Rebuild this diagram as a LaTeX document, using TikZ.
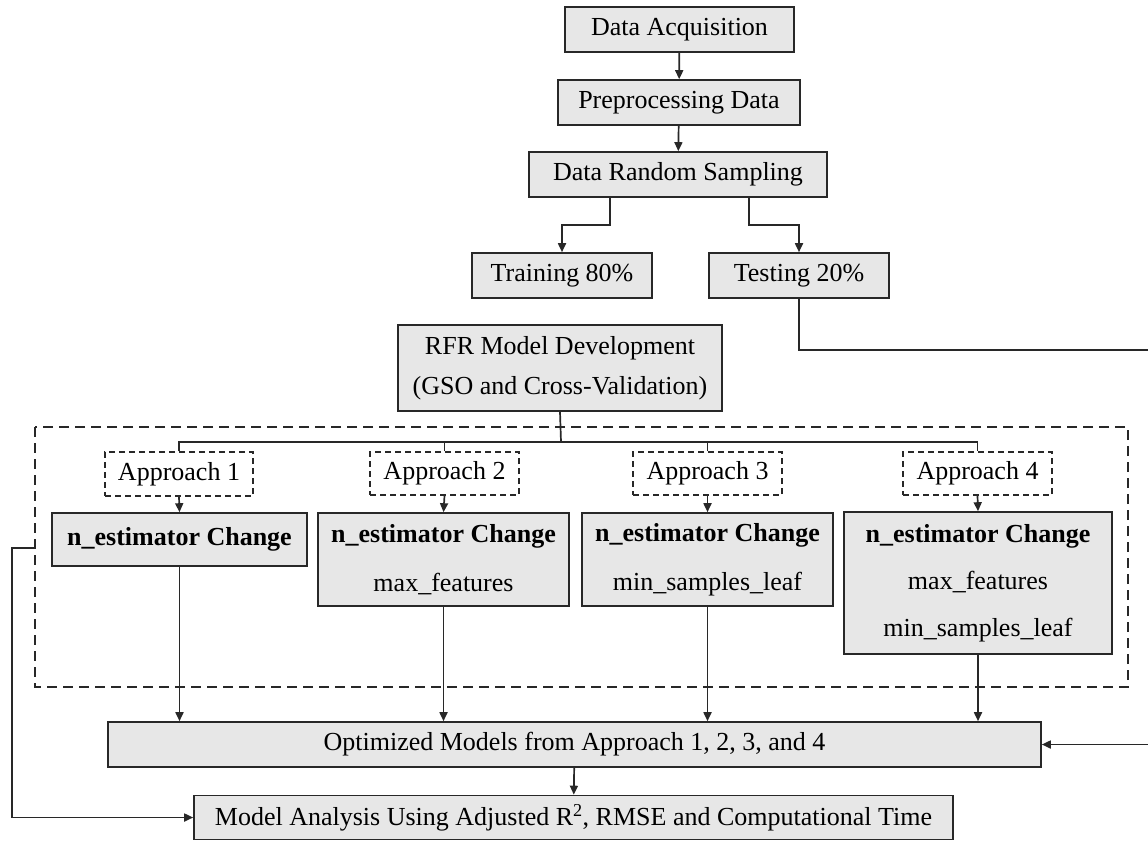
\documentclass[tikz,border=0pt]{standalone}
\usepackage{fontspec}
\setmainfont{Liberation Serif}
\usetikzlibrary{arrows.meta,calc}
\definecolor{boxgray}{RGB}{231,231,231}
\definecolor{edge}{RGB}{40,40,40}
\begin{document}
\begin{tikzpicture}[x=1pt,y=-1pt,
  box/.style={draw=edge, fill=boxgray, line width=1.6pt, inner sep=0pt, align=center,
    font=\fontsize{26}{47}\selectfont},
  appr/.style={draw=edge, line width=1.4pt, dash pattern=on 6pt off 4pt, inner sep=0pt,
    align=center, font=\fontsize{26}{30}\selectfont},
  conn/.style={draw=edge, line width=1.7pt},
  arr/.style={conn, -{Triangle[length=9pt,width=8pt]}},
  frame/.style={draw=edge, line width=1.6pt, dash pattern=on 10pt off 6pt}
]
\useasboundingbox (0,0) rectangle (1148,841);

% top chain
\node[box, minimum width=229, minimum height=45] (da) at (679.5,29.5) {Data Acquisition};
\node[box, minimum width=242, minimum height=45] (pp) at (679,102.5) {Preprocessing Data};
\node[box, minimum width=298, minimum height=45] (drs) at (678,174.5) {Data Random Sampling};
\node[box, minimum width=180, minimum height=45] (train) at (562,275.5) {Training 80\%};
\node[box, minimum width=180, minimum height=45] (test) at (799,275.5) {Testing 20\%};
\node[box, minimum width=324, minimum height=86, font=\fontsize{26}{40}\selectfont] (rfr) at (560,368)
  {RFR Model Development\\(GSO and Cross-Validation)};

% outer dashed frame
\draw[frame] (35,427) rectangle (1128,687);
\coordinate (fl) at (35,548);

% approaches
\node[appr, minimum width=148, minimum height=44] (a1) at (179,474) {Approach 1};
\node[appr, minimum width=149, minimum height=43] (a2) at (444.5,473.5) {Approach 2};
\node[appr, minimum width=149, minimum height=43] (a3) at (707.5,473.5) {Approach 3};
\node[appr, minimum width=149, minimum height=43] (a4) at (977.5,473.5) {Approach 4};

\node[box, minimum width=255, minimum height=53] (b1) at (179.5,539.5) {\textbf{n\_estimator Change}};
\node[box, minimum width=251, minimum height=93, font=\fontsize{26}{49}\selectfont] (b2) at (443.5,559.5)
  {\textbf{n\_estimator Change}\\max\_features};
\node[box, minimum width=251, minimum height=93, font=\fontsize{26}{49}\selectfont] (b3) at (707.5,559.5)
  {\textbf{n\_estimator Change}\\min\_samples\_leaf};
\node[box, minimum width=268, minimum height=142] (b4) at (978,583)
  {\textbf{n\_estimator Change}\\max\_features\\min\_samples\_leaf};

% bottom
\node[box, minimum width=933, minimum height=45] (opt) at (574.5,744.5) {Optimized Models from Approach 1, 2, 3, and 4};
\node[box, minimum width=759, minimum height=44] (ma) at (573.5,817.5)
  {Model Analysis Using Adjusted R\textsuperscript{2}, RMSE and Computational Time};

% connectors top
\draw[arr] (da) -- (pp);
\draw[arr] (pp) -- (drs);
\draw[arr] ($(drs.south)+(-68,0)$) -- ++(0,27) -| (train.north);
\draw[arr] ($(drs.south)+(71,0)$) -- ++(0,27) -| (test.north);
\coordinate (far) at (1165,350);
\draw[arr] (test.south) |- (far) |- (opt.east);

% tree
\coordinate (bus) at (561,442);
\draw[conn] (rfr.south) -- (bus);
\draw[conn] (a1.north) |- (bus) -| (a4.north);
\draw[conn] (a2.north) -- (a2.north |- bus);
\draw[conn] (a3.north) -- (a3.north |- bus);

\foreach \i in {1,2,3,4} {
  \draw[arr] (a\i.south) -- (b\i.north);
  \draw[arr] (b\i.south) -- (b\i.south |- opt.north);
}
\draw[arr] (opt) -- (ma);
\draw[arr] (fl) -- ++(-23,0) |- (ma.west);
\end{tikzpicture}
\end{document}
